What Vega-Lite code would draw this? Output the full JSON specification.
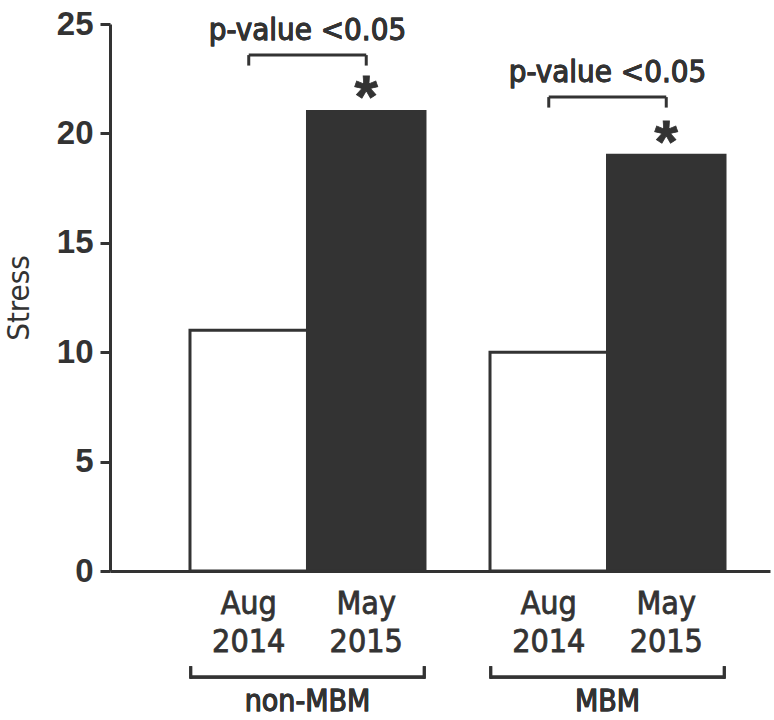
{
  "$schema": "https://vega.github.io/schema/vega-lite/v6.json",
  "width": 660,
  "height": 547,
  "autosize": "none",
  "padding": {"left": 110, "top": 24, "right": 4, "bottom": 149},
  "background": "white",
  "config": {
    "view": {"stroke": null},
    "text": {"font": "DejaVu Sans Condensed", "color": "#333333", "stroke": "#333333", "strokeWidth": 0.8}
  },
  "data": {
    "values": [
      {"group": "non-MBM", "period": "Aug 2014", "label": ["Aug", "2014"], "stress": 11},
      {"group": "non-MBM", "period": "May 2015", "label": ["May", "2015"], "stress": 21},
      {"group": "MBM", "period": "Aug 2014", "label": ["Aug", "2014"], "stress": 10},
      {"group": "MBM", "period": "May 2015", "label": ["May", "2015"], "stress": 19}
    ]
  },
  "layer": [
    {
      "mark": {"type": "bar", "stroke": "#333333", "strokeWidth": 3},
      "encoding": {
        "x": {
          "field": "group", "type": "nominal", "sort": ["non-MBM", "MBM"],
          "scale": {"type": "band", "paddingInner": 0.2167, "paddingOuter": 0.2083, "align": 0.64},
          "axis": {"labels": false, "ticks": false, "title": null, "domainColor": "#333333", "domainWidth": 3}
        },
        "xOffset": {"field": "period", "type": "nominal", "sort": ["Aug 2014", "May 2015"], "scale": {"paddingInner": 0, "paddingOuter": 0}},
        "y": {
          "field": "stress", "type": "quantitative",
          "scale": {"domain": [0, 25], "nice": false, "zero": true},
          "axis": {
            "values": [0, 5, 10, 15, 20, 25], "grid": false, "title": "Stress",
            "titleFont": "DejaVu Sans Condensed", "titleFontSize": 31, "titleFontWeight": "normal",
            "titleColor": "#333333", "titlePadding": 21,
            "labelFont": "Liberation Sans", "labelFontSize": 33, "labelFontWeight": "bold", "labelColor": "#333333",
            "labelPadding": 7, "tickSize": 10, "tickWidth": 3, "tickColor": "#333333",
            "domainColor": "#333333", "domainWidth": 3
          }
        },
        "fill": {"field": "period", "type": "nominal", "scale": {"domain": ["Aug 2014", "May 2015"], "range": ["#ffffff", "#333333"]}, "legend": null}
      }
    },
    {
      "mark": {"type": "text", "baseline": "middle", "align": "center", "fontSize": 32, "lineHeight": 38, "clip": false},
      "encoding": {
        "x": {"field": "group", "type": "nominal", "sort": ["non-MBM", "MBM"]},
        "xOffset": {"field": "period", "type": "nominal"},
        "y": {"datum": -1.5},
        "text": {"field": "label"}
      }
    },
    {
      "mark": {"type": "bar", "color": "#333333", "clip": false},
      "encoding": {
        "x": {"field": "group", "type": "nominal", "sort": ["non-MBM", "MBM"]},
        "y": {"datum": -4.78},
        "y2": {"datum": -4.92}
      }
    },
    {
      "mark": {"type": "rule", "color": "#333333", "strokeWidth": 3, "clip": false},
      "encoding": {
        "x": {"field": "group", "type": "nominal", "sort": ["non-MBM", "MBM"], "bandPosition": 0.003},
        "y": {"datum": -4.35},
        "y2": {"datum": -4.92}
      }
    },
    {
      "mark": {"type": "rule", "color": "#333333", "strokeWidth": 3, "clip": false},
      "encoding": {
        "x": {"field": "group", "type": "nominal", "sort": ["non-MBM", "MBM"], "bandPosition": 0.997},
        "y": {"datum": -4.35},
        "y2": {"datum": -4.92}
      }
    },
    {
      "mark": {"type": "text", "baseline": "middle", "align": "center", "fontSize": 30, "clip": false},
      "encoding": {
        "x": {"field": "group", "type": "nominal", "sort": ["non-MBM", "MBM"]},
        "y": {"datum": -6.0},
        "text": {"field": "group"}
      }
    },
    {
      "transform": [{"filter": "datum.group === 'non-MBM'"}],
      "layer": [
        {
          "mark": {"type": "text", "baseline": "middle", "align": "center", "fontSize": 31},
          "encoding": {
            "x": {"field": "group", "type": "nominal", "sort": ["non-MBM", "MBM"]},
            "y": {"datum": 24.7},
            "text": {"value": "p-value <0.05"}
          }
        },
        {
          "mark": {"type": "line", "color": "#333333", "strokeWidth": 3},
          "encoding": {
            "x": {"field": "group", "type": "nominal", "sort": ["non-MBM", "MBM"]},
            "xOffset": {"field": "period", "type": "nominal"},
            "y": {"datum": 23.58}
          }
        },
        {
          "mark": {"type": "rule", "color": "#333333", "strokeWidth": 3},
          "encoding": {
            "x": {"field": "group", "type": "nominal", "sort": ["non-MBM", "MBM"]},
            "xOffset": {"field": "period", "type": "nominal"},
            "y": {"datum": 23.58},
            "y2": {"datum": 23.1}
          }
        },
        {
          "transform": [{"filter": "datum.period === 'May 2015'"}],
          "mark": {"type": "text", "baseline": "alphabetic", "align": "center", "fontSize": 60, "font": "Liberation Sans", "fontWeight": "bold", "dy": 32},
          "encoding": {
            "x": {"field": "group", "type": "nominal", "sort": ["non-MBM", "MBM"]},
            "xOffset": {"field": "period", "type": "nominal"},
            "y": {"datum": 22.2},
            "text": {"value": "*"}
          }
        }
      ]
    },
    {
      "transform": [{"filter": "datum.group === 'MBM'"}],
      "layer": [
        {
          "mark": {"type": "text", "baseline": "middle", "align": "center", "fontSize": 31},
          "encoding": {
            "x": {"field": "group", "type": "nominal", "sort": ["non-MBM", "MBM"]},
            "y": {"datum": 22.76},
            "text": {"value": "p-value <0.05"}
          }
        },
        {
          "mark": {"type": "line", "color": "#333333", "strokeWidth": 3},
          "encoding": {
            "x": {"field": "group", "type": "nominal", "sort": ["non-MBM", "MBM"]},
            "xOffset": {"field": "period", "type": "nominal"},
            "y": {"datum": 21.66}
          }
        },
        {
          "mark": {"type": "rule", "color": "#333333", "strokeWidth": 3},
          "encoding": {
            "x": {"field": "group", "type": "nominal", "sort": ["non-MBM", "MBM"]},
            "xOffset": {"field": "period", "type": "nominal"},
            "y": {"datum": 21.66},
            "y2": {"datum": 21.18}
          }
        },
        {
          "transform": [{"filter": "datum.period === 'May 2015'"}],
          "mark": {"type": "text", "baseline": "alphabetic", "align": "center", "fontSize": 60, "font": "Liberation Sans", "fontWeight": "bold", "dy": 32},
          "encoding": {
            "x": {"field": "group", "type": "nominal", "sort": ["non-MBM", "MBM"]},
            "xOffset": {"field": "period", "type": "nominal"},
            "y": {"datum": 20.16},
            "text": {"value": "*"}
          }
        }
      ]
    }
  ]
}
